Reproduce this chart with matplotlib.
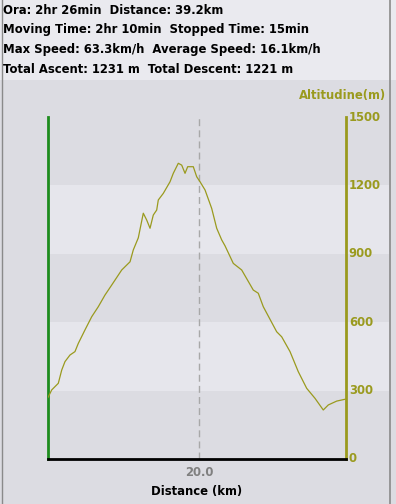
import matplotlib.pyplot as plt
import matplotlib.transforms as mtransforms
from matplotlib.patches import Rectangle

# elevation profile
dist_km = [0.0, 0.49, 1.36, 1.81, 2.24, 2.90, 3.56, 4.00, 4.88, 5.77, 6.64, 7.52,
           8.41, 9.73, 10.83, 11.26, 11.92, 12.58, 13.03, 13.47, 13.90, 14.35,
           14.56, 15.22, 16.11, 16.54, 17.20, 17.65, 18.09, 18.44, 19.18, 19.63,
           20.07, 20.73, 21.61, 22.27, 22.93, 23.37, 24.46, 25.57, 27.10, 27.76,
           28.42, 30.19, 30.85, 31.95, 33.04, 34.15, 35.25, 36.34, 37.00, 38.11,
           39.21]
alt_m = [270, 303, 332, 390, 427, 456, 471, 507, 566, 624, 668, 719,
         763, 829, 865, 917, 970, 1078, 1048, 1012, 1070, 1092,
         1136, 1165, 1216, 1253, 1297, 1289, 1253, 1282, 1282, 1238,
         1216, 1180, 1099, 1012, 961, 935, 858, 829, 741, 727,
         668, 558, 536, 471, 383, 310, 266, 215, 237, 254,
         262]

summary = ["Ora: 2hr 26min  Distance: 39.2km",
           "Moving Time: 2hr 10min  Stopped Time: 15min",
           "Max Speed: 63.3km/h  Average Speed: 16.1km/h",
           "Total Ascent: 1231 m  Total Descent: 1221 m"]
alt_ticks = [0, 300, 600, 900, 1200, 1500]
x_ticks = [20.0]

W, H = 396, 504
bg = '#dcdce2'
band = '#e6e6ec'
olive = '#9a9a1e'
fs = 8.4

plt.rcParams['font.family'] = ['DejaVu Sans']
fig = plt.figure(figsize=(W / 100, H / 100), dpi=100, facecolor=bg)

# header panel
fig.patches.append(Rectangle((0, 1 - 80 / H), 1, 80 / H, transform=fig.transFigure,
                             facecolor='#eaeaef', edgecolor='none', zorder=0))
for i, line in enumerate(summary):
    fig.text(3 / W, 1 - (10 + i * 19.7) / H, line, fontsize=fs, fontweight='bold',
             va='center', ha='left', color='black')

ax = fig.add_axes([48 / W, 1 - 459 / H, 298 / W, 342 / H])
ax.set_facecolor('none')
ax.set_xlim(0, 39.34)
ax.set_ylim(0, 1500)

# alternating bands stretching across to the panel border
tr = mtransforms.blended_transform_factory(fig.transFigure, ax.transData)
for lo in [300, 900]:
    ax.add_patch(Rectangle((48 / W, lo), (389 - 48) / W, 300, transform=tr,
                           facecolor=band, edgecolor='none', clip_on=False, zorder=0))

fig.lines.append(plt.Line2D([389.5 / W, 389.5 / W], [0, 1], transform=fig.transFigure,
                            color='#8a8a8a', lw=1.2))
fig.lines.append(plt.Line2D([1.5 / W, 1.5 / W], [0, 1], transform=fig.transFigure,
                            color='#8a8a8a', lw=1.0))

for xt in x_ticks:
    ax.axvline(xt, color='#a8a8a8', lw=1, dashes=(5, 3), zorder=1)

ax.plot(dist_km, alt_m, color=olive, lw=0.9, zorder=3)

ax.spines['top'].set_visible(False)
ax.spines['left'].set_color('#1e8c1e')
ax.spines['left'].set_linewidth(2)
ax.spines['right'].set_color(olive)
ax.spines['right'].set_linewidth(2)
ax.spines['bottom'].set_color('black')
ax.spines['bottom'].set_linewidth(2)
ax.spines['bottom'].set_zorder(5)

ax.set_xticks(x_ticks)
ax.set_xticklabels(['%.1f' % v for v in x_ticks], fontsize=fs, fontweight='bold',
                   color='#808080')
ax.tick_params(axis='x', length=0, pad=5)
ax.yaxis.tick_right()
ax.set_yticks(alt_ticks)
ax.set_yticklabels([str(v) for v in alt_ticks], fontsize=fs, fontweight='bold',
                   color=olive)
ax.tick_params(axis='y', length=0, pad=2)
for lbl in ax.get_yticklabels():
    lbl.set_verticalalignment('center')

ax.set_xlabel('Distance (km)', fontsize=fs, fontweight='bold', color='black',
              labelpad=4)
fig.text(386 / W, 1 - 96 / H, 'Altitudine(m)', fontsize=fs, fontweight='bold',
         color=olive, ha='right', va='center')

fig.savefig('out.png', dpi=100, facecolor=bg)
